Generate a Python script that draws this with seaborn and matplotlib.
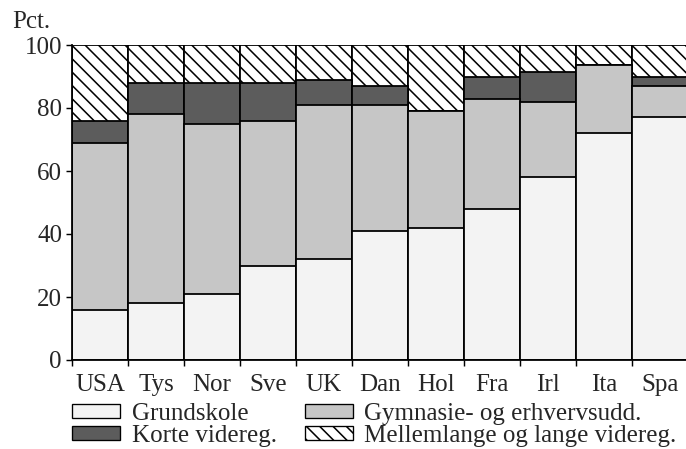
import matplotlib
matplotlib.use("Agg")
import matplotlib.pyplot as plt
from matplotlib.patches import Patch
import seaborn as sns
import numpy as np
import pandas as pd

# data (percent of population by education level)
countries = ["USA", "Tys", "Nor", "Sve", "UK", "Dan", "Hol", "Fra", "Irl", "Ita", "Spa"]
grundskole = [16, 18, 21, 30, 32, 41, 42, 48, 58, 72, 77]
gymnasie = [53, 60, 54, 46, 49, 40, 37, 35, 24, 21.5, 10]
korte = [7, 10, 13, 12, 8, 6, 0, 7, 9.5, 0, 3]
mellemlange = [24, 12, 12, 12, 11, 13, 21, 10, 8.5, 6.5, 10]

labels = ["Grundskole", "Gymnasie- og erhvervsudd.", "Korte videreg.", "Mellemlange og lange videreg."]

df = pd.DataFrame({
    "Land": countries,
    "Grundskole": grundskole,
    "Gymnasie": gymnasie,
    "Korte": korte,
    "Mellemlange": mellemlange,
})
# cumulative tops, drawn from the tallest layer down
df["c1"] = df["Grundskole"]
df["c2"] = df["c1"] + df["Gymnasie"]
df["c3"] = df["c2"] + df["Korte"]
df["c4"] = df["c3"] + df["Mellemlange"]

sns.set_style("ticks")
plt.rcParams["font.family"] = ["Liberation Serif", "DejaVu Serif"]
plt.rcParams["hatch.linewidth"] = 1.4

dpi = 80
fs = 22.5
fig = plt.figure(figsize=(686 / dpi, 449 / dpi), dpi=dpi)
ax = fig.add_axes([72 / 686, (449 - 360) / 449, 616 / 686, 315 / 449])

colors = {"c4": "white", "c3": "#5c5c5c", "c2": "#c6c6c6", "c1": "#f3f3f3"}
for col in ["c4", "c3", "c2", "c1"]:
    n0 = len(ax.patches)
    sns.barplot(data=df, x="Land", y=col, color=colors[col], saturation=1,
                width=1.0, edgecolor="black", linewidth=1.6, ax=ax)
    if col == "c4":
        for p in ax.patches[n0:]:
            p.set_hatch("\\\\")

ax.set_xlim(-0.5, 10.5)
ax.set_ylim(0, 100)
ax.set_yticks([0, 20, 40, 60, 80, 100])
ax.set_xlabel("")
ax.set_ylabel("")
ax.set_xticks(np.arange(len(countries)))
ax.set_xticklabels(countries)
ax.set_xticks(np.arange(len(countries)) - 0.5, minor=True)
ax.tick_params(axis="x", which="major", length=0, labelsize=fs, pad=13)
ax.tick_params(axis="x", which="minor", length=5, width=1.3, color="black")
ax.tick_params(axis="y", length=5, width=1.3, labelsize=fs, pad=4, color="black")
sns.despine(ax=ax, top=True, right=True)
for s in ["left", "bottom"]:
    ax.spines[s].set_linewidth(1.6)
    ax.spines[s].set_color("black")

fig.text(12 / 686, 1 - 28 / 449, "Pct.", fontsize=fs, va="baseline", ha="left")

handles = [
    Patch(facecolor=colors["c1"], edgecolor="black", linewidth=1.2),
    Patch(facecolor=colors["c3"], edgecolor="black", linewidth=1.2),
    Patch(facecolor=colors["c2"], edgecolor="black", linewidth=1.2),
    Patch(facecolor="white", edgecolor="black", linewidth=1.2, hatch="\\\\"),
]
leg_labels = [labels[0], labels[2], labels[1], labels[3]]
fig.legend(handles, leg_labels, loc="upper left", bbox_to_anchor=(72 / 686, 1 - 403 / 449),
           ncol=2, frameon=False, fontsize=fs, handlelength=1.92, handleheight=0.52,
           handletextpad=0.48, labelspacing=0.0, columnspacing=1.1,
           borderpad=0, borderaxespad=0)

fig.savefig("out.png", dpi=dpi)
